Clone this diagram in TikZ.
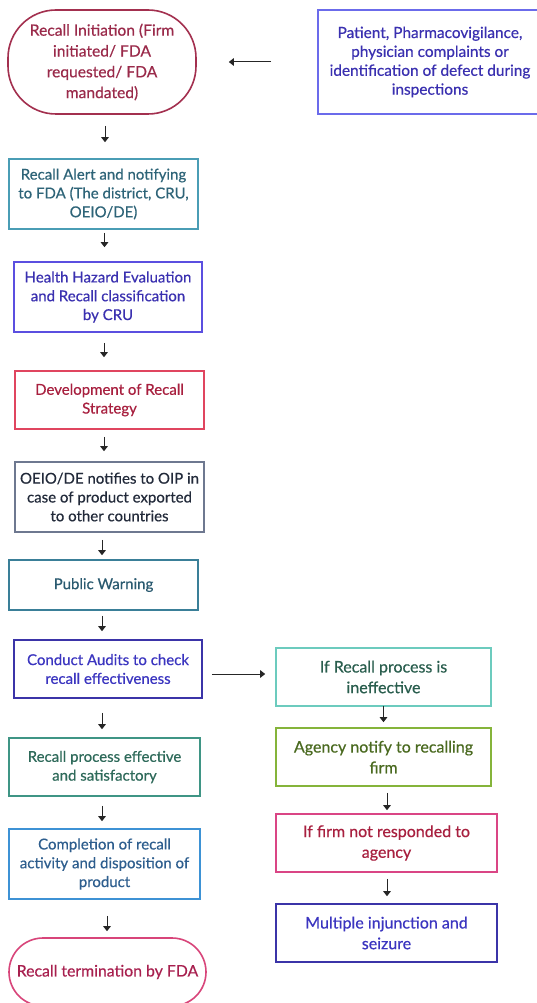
\documentclass[tikz,border=0pt]{standalone}
\usepackage{fontspec}
\setmainfont{Lato}[FakeBold=0.45]
\usetikzlibrary{calc,arrows.meta}
\definecolor{cInitD}{HTML}{A3304F}\definecolor{cInitT}{HTML}{9A2A4A}
\definecolor{cPatD}{HTML}{6B6BEB}\definecolor{cPatT}{HTML}{3A30B0}
\definecolor{cAlD}{HTML}{4A9DB5}\definecolor{cAlT}{HTML}{2E6478}
\definecolor{cHzD}{HTML}{5B4FE0}\definecolor{cHzT}{HTML}{3A30B0}
\definecolor{cStD}{HTML}{E0455F}\definecolor{cStT}{HTML}{A8203F}
\definecolor{cOeD}{HTML}{6E7890}\definecolor{cOeT}{HTML}{222A3A}
\definecolor{cPwD}{HTML}{3A7F98}\definecolor{cPwT}{HTML}{2A5A70}
\definecolor{cAuD}{HTML}{3B34A8}\definecolor{cAuT}{HTML}{3B35C0}
\definecolor{cInD}{HTML}{6CCBBE}\definecolor{cInT}{HTML}{2A5E4E}
\definecolor{cAgD}{HTML}{85B43A}\definecolor{cAgT}{HTML}{4A6A20}
\definecolor{cNrD}{HTML}{DA4585}\definecolor{cNrT}{HTML}{A8203F}
\definecolor{cEfD}{HTML}{3F9585}\definecolor{cEfT}{HTML}{2E6A5A}
\definecolor{cCoD}{HTML}{3D92D5}\definecolor{cCoT}{HTML}{2E5E8E}
\definecolor{cTeD}{HTML}{D8457A}\definecolor{cTeT}{HTML}{A8204F}
\begin{document}
\begin{tikzpicture}[x=1pt,y=-1pt,
  box/.style={draw, rectangle, line width=1.6pt, inner sep=0pt, align=center,
    font=\fontsize{15}{18.8}\selectfont, fill=white},
  rbox/.style={box, font=\fontsize{16}{20.7}\selectfont},
  arr/.style={draw=black!85, line width=1pt, -{Triangle[length=5pt,width=7.5pt]}}]
\useasboundingbox (0,0) rectangle (536,1003);
\fill[white] (0,0) rectangle (536,1003);
% left column
\node[box, rounded corners=48pt, draw=cInitD, text=cInitT, minimum width=188pt, minimum height=104pt,
  font=\fontsize{15.6}{20.8}\selectfont] (init) at (102,62)
  {Recall Initiation (Firm\\initiated/ FDA\\requested/ FDA\\mandated)};
\node[box, draw=cPatD, text=cPatT, minimum width=224pt, minimum height=104pt,
  font=\fontsize{15.4}{18.9}\selectfont] (patient) at (430,62)
  {Patient, Pharmacovigilance,\\physician complaints or\\identification of defect during\\inspections};
\node[box, draw=cAlD, text=cAlT, minimum width=189pt, minimum height=70pt] (alert) at (103.5,194)
  {Recall Alert and notifying\\to FDA (The district, CRU,\\OEIO/DE)};
\node[box, draw=cHzD, text=cHzT, minimum width=188pt, minimum height=70pt] (hazard) at (108,297)
  {Health Hazard Evaluation\\and Recall classification\\by CRU};
\node[box, draw=cStD, text=cStT, minimum width=189pt, minimum height=58pt] (strategy) at (109.5,400)
  {Development of Recall\\Strategy};
\node[box, draw=cOeD, text=cOeT, minimum width=189pt, minimum height=70pt] (oeio) at (109.5,497)
  {OEIO/DE notifies to OIP in\\case of product exported\\to other countries};
\node[box, draw=cPwD, text=cPwT, minimum width=189pt, minimum height=50pt] (public) at (103.5,585)
  {Public Warning};
\node[box, draw=cAuD, text=cAuT, minimum width=188pt, minimum height=58pt] (audits) at (108,669)
  {Conduct Audits to check\\recall effectiveness};
\node[box, draw=cEfD, text=cEfT, minimum width=191pt, minimum height=58pt] (effective) at (104.5,767)
  {Recall process effective\\and satisfactory};
\node[box, draw=cCoD, text=cCoT, minimum width=191pt, minimum height=70pt] (completion) at (104.5,864)
  {Completion of recall\\activity and disposition of\\product};
\node[box, rounded corners=34pt, draw=cTeD, text=cTeT, minimum width=197pt, minimum height=68pt,
  font=\fontsize{15.8}{18.8}\selectfont] (termination) at (107.5,972)
  {Recall termination by FDA};
% right column
\node[rbox, draw=cInD, text=cInT, minimum width=215pt, minimum height=58pt] (ineffective) at (383.5,677)
  {If Recall process is\\ineffective};
\node[rbox, draw=cAgD, text=cAgT, minimum width=215pt, minimum height=58pt] (agency) at (383.5,757)
  {Agency notify to recalling\\firm};
\node[rbox, draw=cNrD, text=cNrT, minimum width=221pt, minimum height=58pt] (notresp) at (386.5,843)
  {If firm not responded to\\agency};
\node[rbox, draw=cAuD, text=cAuT, minimum width=221pt, minimum height=58pt] (multiple) at (386.5,933)
  {Multiple injunction and\\seizure};
% connectors
\draw[arr, shorten <=46pt, shorten >=32pt] (patient.west) -- (init.east);
\draw[arr] ($(init.south)+(3,11)$) -- ($(alert.north)+(1.5,-16)$);
\draw[arr] ($(alert.south)+(1,3)$) -- ($(hazard.north)+(-3.5,-14)$);
\draw[arr] ($(hazard.south)+(-4,10)$) -- ($(strategy.north)+(-5.5,-13)$);
\draw[arr] ($(strategy.south)+(-5.5,7)$) -- ($(oeio.north)+(-5.5,-10)$);
\draw[arr] ($(oeio.south)+(-7.5,7)$) -- ($(public.north)+(-1.5,-4)$);
\draw[arr] ($(public.south)+(-1.5,5)$) -- ($(audits.north)+(-6,-8)$);
\draw[arr] ($(audits.south)+(-6,14)$) -- ($(effective.north)+(-2.5,-8)$);
\draw[arr] ($(effective.south)+(-2.5,9)$) -- ($(completion.north)+(-2.5,-7)$);
\draw[arr] ($(completion.south)+(2.5,16)$) -- ($(termination.north)+(-0.5,-6)$);
\draw[arr] ($(audits.east)+(9,5)$) -- ($(ineffective.west)+(-10,-3)$);
\draw[arr] ($(ineffective.south)+(0,-1)$) -- ($(agency.north)+(0,-5)$);
\draw[arr] ($(agency.south)+(3.5,6)$) -- ($(notresp.north)+(0.5,-3)$);
\draw[arr] ($(notresp.south)+(0.5,6)$) -- ($(multiple.north)+(0.5,-7)$);
\end{tikzpicture}
\end{document}
